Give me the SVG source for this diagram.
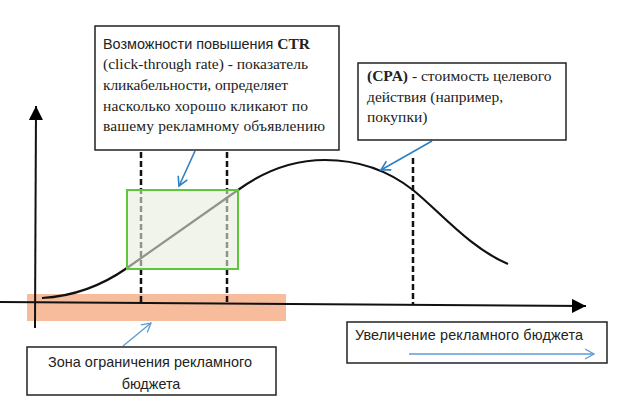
<svg xmlns="http://www.w3.org/2000/svg" width="629" height="410" viewBox="0 0 629 410">
<style>
.box{fill:#fff;stroke:#222;stroke-width:1.5}
.sans{font-family:"Liberation Sans",Arial,sans-serif;font-size:14.4px;fill:#222}
.serif{font-family:"Liberation Serif","Times New Roman",serif;font-size:15.5px;fill:#222}
.b{font-weight:bold}
.dash{stroke:#111;stroke-width:2.5;stroke-dasharray:6 3;fill:none}
.blue{stroke:#2f7fc4;stroke-width:1.6;fill:none}
.lblue{stroke:#5b9bd5;stroke-width:1.3;fill:none}
</style>
<defs>
<marker id="ah" markerWidth="16" markerHeight="16" refX="14" refY="7" orient="auto" markerUnits="userSpaceOnUse"><path d="M0,0 L14,7 L0,14 Z" fill="#000"/></marker>
<marker id="bh" markerWidth="14" markerHeight="14" refX="10" refY="6" orient="auto" markerUnits="userSpaceOnUse"><path d="M1,1 L10,6 L1,11" fill="none" stroke="#2f7fc4" stroke-width="1.6"/></marker>
<marker id="lh" markerWidth="14" markerHeight="14" refX="10" refY="6" orient="auto" markerUnits="userSpaceOnUse"><path d="M1,1 L10,6 L1,11" fill="none" stroke="#5b9bd5" stroke-width="1.3"/></marker>
</defs>
<rect width="629" height="410" fill="#fff"/>
<g id="budget-band"><rect x="27" y="294" width="259" height="27" fill="#f6b089" fill-opacity="0.85"/></g>
<g id="axes" stroke="#111" stroke-width="2" fill="none">
<line x1="35" y1="328" x2="36" y2="106" marker-end="url(#ah)"/>
<line x1="0" y1="302" x2="586" y2="306" marker-end="url(#ah)"/>
</g>
<g id="curve" fill="none" stroke="#111" stroke-width="2.2">
<path d="M42,298 C80,296 107,282 127,268 L238,190 C260,174 290,160 325,160 C360,160 390,172 413,190 C440,212 470,248 508,264"/>
</g>
<g id="connectors">
<line class="dash" x1="141" y1="152" x2="141" y2="304"/>
<line class="dash" x1="227" y1="152" x2="227" y2="304"/>
<line class="dash" x1="413" y1="158" x2="413" y2="305"/>
<line class="blue" x1="195" y1="151" x2="179" y2="186" marker-end="url(#bh)"/>
<line class="blue" x1="432" y1="141" x2="381" y2="170" marker-end="url(#bh)"/>
<line class="lblue" x1="123" y1="346" x2="151" y2="323" marker-end="url(#lh)"/>
</g>
<g id="ctr-zone"><rect x="127" y="190" width="111" height="79" fill="#e8ecdc" fill-opacity="0.6" stroke="#5ec63a" stroke-width="2"/></g>
<g id="ctr-note">
<rect class="box" x="95" y="26" width="244" height="124"/>
<text x="103" y="49"><tspan class="sans">Возможности повышения </tspan><tspan class="serif b">CTR</tspan></text>
<text class="serif" x="103" y="69" textLength="205" lengthAdjust="spacing">(click-through rate) - показатель</text>
<text class="serif" x="103" y="90" textLength="185" lengthAdjust="spacing">кликабельности, определяет</text>
<text class="serif" x="103" y="111" textLength="205" lengthAdjust="spacing">насколько хорошо кликают по</text>
<text class="serif" x="103" y="131" textLength="222" lengthAdjust="spacing">вашему рекламному объявлению</text>
</g>
<g id="cpa-note">
<rect class="box" x="358" y="63" width="208" height="77"/>
<text x="367" y="81"><tspan class="serif b">(CPA)</tspan><tspan class="serif"> - стоимость целевого</tspan></text>
<text class="serif" x="367" y="102" textLength="136" lengthAdjust="spacing">действия (например,</text>
<text class="serif" x="367" y="122">покупки)</text>
</g>
<g id="budget-note">
<rect class="box" x="27" y="347" width="249" height="48"/>
<text class="sans" x="48" y="367" textLength="204" lengthAdjust="spacing">Зона ограничения рекламного</text>
<text class="sans" x="151" y="389" text-anchor="middle">бюджета</text>
</g>
<g id="increase-note">
<rect class="box" x="347" y="322" width="260" height="41"/>
<text class="sans" x="355" y="340" textLength="228" lengthAdjust="spacing">Увеличение рекламного бюджета</text>
<line class="lblue" x1="409" y1="354" x2="594" y2="354" marker-end="url(#lh)"/>
</g>
</svg>
